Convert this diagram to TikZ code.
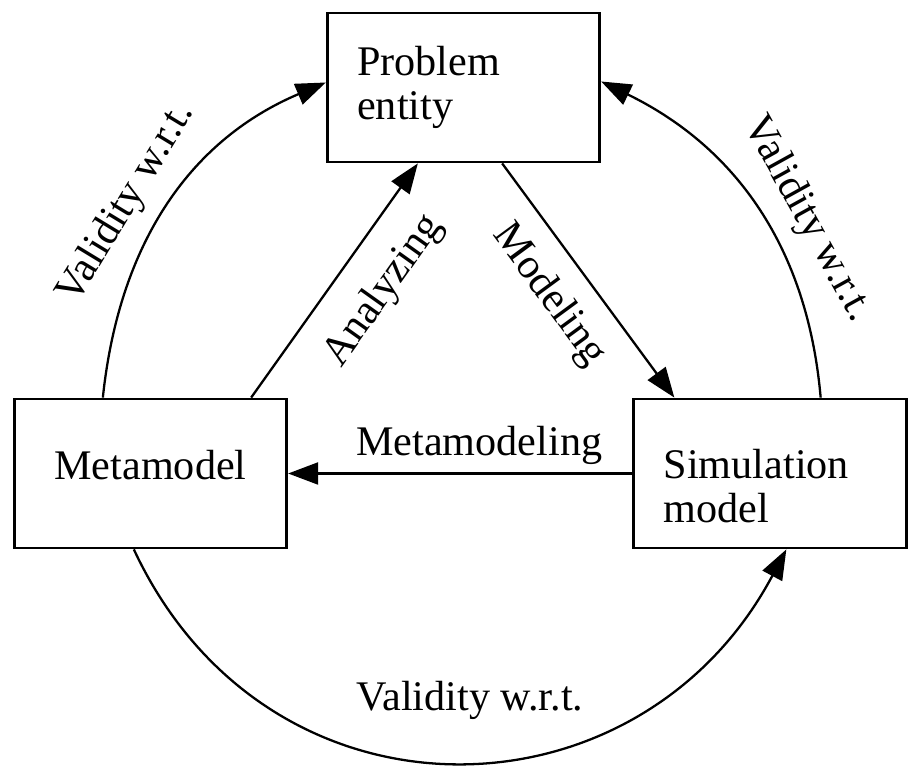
\documentclass[tikz,border=0pt]{standalone}
\usepackage{fontspec}
\setmainfont{Liberation Serif}
\usetikzlibrary{arrows.meta}
\definecolor{ink}{HTML}{000000}
\definecolor{paper}{HTML}{FFFFFF}
\tikzset{
  box/.style={draw=ink, fill=paper, line width=1.6pt, minimum width=5.45cm, minimum height=2.98cm,
    inner xsep=0.6cm, text width=4.25cm, align=left, font=\fontsize{24}{25.5}\selectfont},
  link/.style={draw=ink, line width=1.3pt, -{Triangle[length=0.6cm,width=0.44cm]}},
  lab/.style={text=ink, font=\fontsize{24}{25.5}\selectfont},
}

\begin{document}
\begin{tikzpicture}
  \useasboundingbox (0,0) rectangle (18.36,15.56);
  % the three boxes
  \node[box] (prob) at (9.27,13.81) {Problem\\entity};
  \node[box, align=center, text depth=0.35cm] (meta) at (3.01,6.09) {Metamodel};
  \node[box, text depth=0.4cm] (sim) at (15.40,6.09) {Simulation\\model};
  % inner triangle
  \draw[link] ([xshift=-0.74cm]meta.north east) -- node[lab, pos=0.57, sloped, below, inner sep=0.52cm] {Analyzing} ([xshift=1.84cm]prob.south west);
  \draw[link] ([xshift=-1.98cm]prob.south east) -- node[lab, pos=0.46, sloped, below, inner sep=0.4cm] {Modeling} ([xshift=0.84cm]sim.north west);
  \draw[link] (sim.west) -- node[lab, pos=0.445, above, inner sep=0.15cm] {Metamodeling} (meta.east);
  % outer arcs
  \draw[link] ([xshift=1.8cm]meta.north west) to[out=84, in=203] node[lab, pos=0.45, sloped, above, inner sep=0.32cm] {Validity w.r.t.} ([yshift=0.1cm]prob.west);
  \draw[link] ([xshift=-1.74cm]sim.north east) to[out=95, in=-26] node[lab, pos=0.41, sloped, above, inner sep=0.34cm] {Validity w.r.t.} ([yshift=0.12cm]prob.east);
  \draw[link] ([xshift=2.42cm]meta.south west) to[out=-65, in=242, looseness=1.24] node[lab, pos=0.52, above, inner sep=0.8cm] {Validity w.r.t.} ([xshift=3.08cm]sim.south west);
\end{tikzpicture}
\end{document}
